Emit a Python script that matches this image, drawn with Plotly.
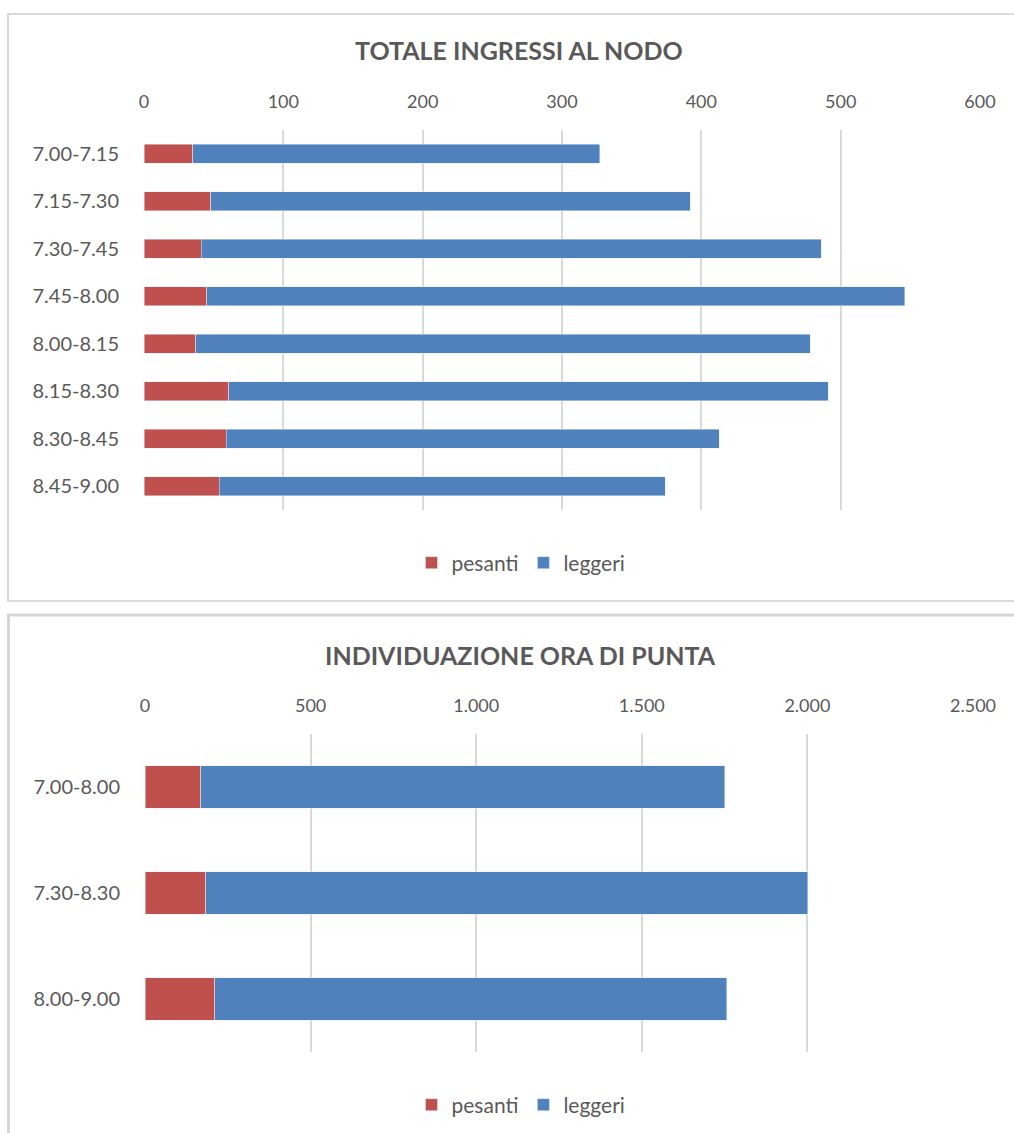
import plotly.graph_objects as go

# ---- data ----
cat_top = ["7.00-7.15", "7.15-7.30", "7.30-7.45", "7.45-8.00",
           "8.00-8.15", "8.15-8.30", "8.30-8.45", "8.45-9.00"]
pesanti_top = [35, 48, 41, 45, 37, 61, 59, 54]
leggeri_top = [292, 344, 445, 501, 441, 430, 354, 320]

cat_bot = ["7.00-8.00", "7.30-8.30", "8.00-9.00"]
pesanti_bot = [169, 184, 211]
leggeri_bot = [1582, 1817, 1545]

ticks_top = [0, 100, 200, 300, 400, 500, 600]
ticks_bot = [0, 500, 1000, 1500, 2000, 2500]

title_top = "TOTALE INGRESSI AL NODO"
title_bot = "INDIVIDUAZIONE ORA DI PUNTA"

RED = "#C0504D"
BLUE = "#4F81BD"
TXT = "#595959"
GRID = "#D9D9D9"
FONT = "Lato"

W, H = 1014, 1133

def px(v):  # x pixel -> paper
    return v / W

def py(v):  # y pixel (from top) -> paper
    return 1 - v / H

fig = go.Figure()

fig.add_trace(go.Bar(y=cat_top, x=pesanti_top, name="pesanti", orientation="h",
                     marker_color=RED, xaxis="x", yaxis="y", legend="legend"))
fig.add_trace(go.Bar(y=cat_top, x=leggeri_top, name="leggeri", orientation="h",
                     marker_color=BLUE, xaxis="x", yaxis="y", legend="legend"))
fig.add_trace(go.Bar(y=cat_bot, x=pesanti_bot, name="pesanti", orientation="h",
                     marker_color=RED, xaxis="x2", yaxis="y2", legend="legend2"))
fig.add_trace(go.Bar(y=cat_bot, x=leggeri_bot, name="leggeri", orientation="h",
                     marker_color=BLUE, xaxis="x2", yaxis="y2", legend="legend2"))

axis_common = dict(showgrid=True, gridcolor=GRID, gridwidth=1.5, zeroline=False,
                   showline=False, side="top", ticks="", ticklabelstandoff=17,
                   automargin=False,
                   tickfont=dict(family=FONT, size=18, color=TXT))
yaxis_common = dict(showgrid=False, zeroline=False, ticks="", ticklabelstandoff=24,
                    automargin=False,
                    tickfont=dict(family=FONT, size=20, color=TXT))
legend_common = dict(orientation="h", x=px(521), xanchor="center", yanchor="middle",
                     traceorder="normal", font=dict(family=FONT, size=21, color=TXT),
                     itemwidth=30, bgcolor="rgba(0,0,0,0)")

fig.update_layout(
    width=W, height=H,
    margin=dict(l=0, r=0, t=0, b=0, pad=0, autoexpand=False),
    paper_bgcolor="white", plot_bgcolor="white",
    barmode="stack", bargap=0.6,
    separators=",.",
    font=dict(family=FONT, color=TXT),
    xaxis=dict(domain=[px(144), px(980)], range=[0, 600], tickvals=ticks_top,
               anchor="y", **axis_common),
    yaxis=dict(domain=[py(510), py(130)], range=[7.5, -0.5], anchor="x", **yaxis_common),
    xaxis2=dict(domain=[px(145), px(973)], range=[0, 2500], tickvals=ticks_bot,
                tickformat=",d", anchor="y2", **axis_common),
    yaxis2=dict(domain=[py(1052), py(734)], range=[2.5, -0.5], anchor="x2", **yaxis_common),
    legend=dict(y=py(563), **legend_common),
    legend2=dict(y=py(1105), **legend_common),
    annotations=[
        dict(text=f"<b>{title_top}</b>", x=px(519), y=py(50), xref="paper", yref="paper",
             xanchor="center", yanchor="middle",
             showarrow=False, font=dict(family=FONT, size=25, color=TXT)),
        dict(text=f"<b>{title_bot}</b>", x=px(520), y=py(655), xref="paper", yref="paper",
             xanchor="center", yanchor="middle",
             showarrow=False, font=dict(family=FONT, size=25, color=TXT)),
    ],
    shapes=[
        dict(type="rect", xref="paper", yref="paper", x0=px(8), x1=px(1030),
             y0=py(601), y1=py(14), line=dict(color="#DADADA", width=2)),
        dict(type="rect", xref="paper", yref="paper", x0=px(8.5), x1=px(1030),
             y0=py(1150), y1=py(615), line=dict(color="#D6D6D6", width=3)),
    ],
)

fig.write_html("out.html", config={"displayModeBar": False},
               post_script="document.body.style.margin='0';document.body.style.overflow='hidden';")
